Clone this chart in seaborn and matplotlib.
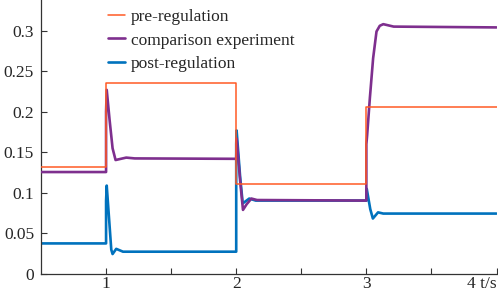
import numpy as np
import pandas as pd
import matplotlib
matplotlib.use("Agg")
import matplotlib.pyplot as plt
import seaborn as sns

# pre-regulation reference (step signal)
pre_t = [0.5, 1.0, 1.0, 2.0, 2.0, 3.0, 3.0, 4.0]
pre_y = [0.132, 0.132, 0.235, 0.235, 0.1105, 0.1105, 0.206, 0.206]

# comparison experiment
cmp_t = [0.5, 1.0, 1.0, 1.005, 1.027, 1.05, 1.073, 1.10, 1.155, 1.22, 2.0,
         2.0, 2.003, 2.03, 2.052, 2.08, 2.117, 2.16, 3.0,
         3.0, 3.006, 3.027, 3.052, 3.078, 3.103, 3.13, 3.21, 4.0]
cmp_y = [0.1257, 0.1257, 0.20, 0.227, 0.19, 0.155, 0.1405, 0.1415, 0.1435, 0.1425, 0.142,
         0.142, 0.167, 0.115, 0.079, 0.086, 0.093, 0.0912, 0.0905,
         0.160, 0.171, 0.217, 0.266, 0.299, 0.306, 0.308, 0.305, 0.304]

# post-regulation
post_t = [0.5, 1.0, 1.0, 1.005, 1.04, 1.05, 1.078, 1.13, 2.0,
          2.0, 2.003, 2.03, 2.05, 2.10, 2.15, 3.0,
          3.0, 3.003, 3.03, 3.05, 3.09, 3.13, 4.0]
post_y = [0.0377, 0.0377, 0.09, 0.109, 0.03, 0.0246, 0.031, 0.0275, 0.0275,
          0.16, 0.177, 0.12, 0.087, 0.093, 0.0905, 0.0905,
          0.10, 0.105, 0.08, 0.0684, 0.076, 0.0745, 0.0745]

labels = ["pre-regulation", "comparison experiment", "post-regulation"]
colors = ["#FF5A24", "#7E2F8E", "#0072BD"]

sns.set_style("ticks")
plt.rcParams["font.family"] = ["Liberation Serif", "DejaVu Serif"]
plt.rcParams["font.size"] = 12.5

fig = plt.figure(figsize=(4.98, 2.92), dpi=100)
ax = fig.add_axes([41 / 498, 18 / 292, 455.5 / 498, 274 / 292])

df_pre = pd.DataFrame({"t": pre_t, "y": pre_y})
df_cmp = pd.DataFrame({"t": cmp_t, "y": cmp_y})
df_post = pd.DataFrame({"t": post_t, "y": post_y})

sns.lineplot(data=df_post, x="t", y="y", sort=False, estimator=None, color=colors[2],
             lw=1.9, ax=ax, label=labels[2], zorder=2)
sns.lineplot(data=df_cmp, x="t", y="y", sort=False, estimator=None, color=colors[1],
             lw=1.9, ax=ax, label=labels[1], zorder=3)
sns.lineplot(data=df_pre, x="t", y="y", sort=False, estimator=None, color=colors[0],
             lw=1.1, ax=ax, label=labels[0], zorder=4)

ax.set_xlim(0.5, 4.0)
ax.set_ylim(0, 0.3378)
ax.set_xticks([1, 2, 3, 4])
ax.set_xticklabels(["1", "2", "3", "4 t/s"])
ax.xaxis.get_ticklabels()[-1].set_ha("right")
ax.set_xticks([1.5, 2.5, 3.5], minor=True)
ax.set_yticks([0, 0.05, 0.1, 0.15, 0.2, 0.25, 0.3])
ax.set_yticklabels(["0", "0.05", "0.1", "0.15", "0.2", "0.25", "0.3"])
ax.tick_params(which="both", direction="in", length=4, width=0.8, color="#333333")
ax.tick_params(axis="x", pad=1.5)
ax.tick_params(axis="y", pad=5)
ax.set_xlabel("")
ax.set_ylabel("")
sns.despine(ax=ax)
for s in ["left", "bottom"]:
    ax.spines[s].set_color("#333333")
    ax.spines[s].set_linewidth(0.9)

handles, labs = ax.get_legend_handles_labels()
order = [labs.index(l) for l in labels]
ax.legend([handles[i] for i in order], labels, loc="upper left",
          bbox_to_anchor=(0.113, 1.023), frameon=False, handlelength=1.0,
          handletextpad=0.3, labelspacing=0.4, fontsize=12.5)

fig.savefig("out.png", dpi=100)
